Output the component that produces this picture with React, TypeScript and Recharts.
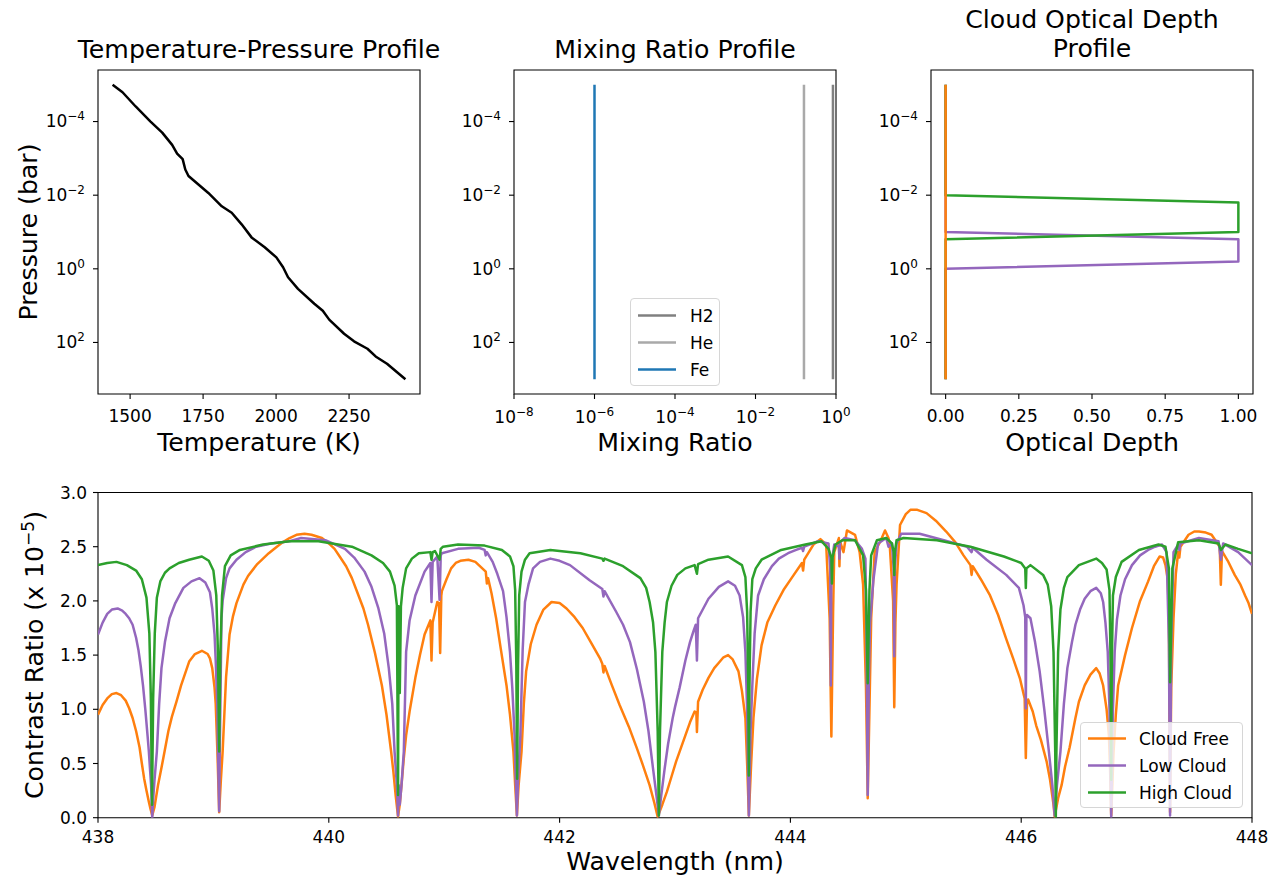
import React from 'react'
import { ScatterChart, Scatter, XAxis, YAxis, ReferenceArea, Legend } from 'recharts'

const FONT = '"DejaVu Sans", sans-serif'

// temperature-pressure profile
const tpTemperature = [1440, 1474, 1519, 1570, 1610, 1644, 1661, 1680, 1689, 1700, 1768, 1814, 1848, 1882, 1916, 1961, 2001, 2024, 2041, 2075, 2131, 2160, 2182, 2233, 2267, 2313, 2341, 2380, 2443]
const tpPressure = [1e-5, 1.6e-5, 3.9e-5, 1.0e-4, 2.0e-4, 4.3e-4, 7.4e-4, 1.05e-3, 2.0e-3, 3.0e-3, 8.7e-3, 0.02, 0.03, 0.062, 0.14, 0.26, 0.49, 0.91, 1.7, 3.5, 8.9, 13.8, 24, 58, 93, 148, 240, 380, 1000]

// mixing ratios (constant with pressure)
const mixPressure = [1e-5, 1e3]
const speciesNames = ['H2', 'He', 'Fe']
const speciesRatio = [0.84, 0.16, 1e-6]
const speciesColors = ['#808080', '#a9a9a9', '#1f77b4']

// cloud optical depth profiles
const clearPressure = [1e-5, 1e3]
const clearDepth = [0, 0]
const lowCloudPressure = [1e-5, 0.1, 0.158, 0.631, 1.0, 1e3]
const lowCloudDepth = [0, 0, 1, 1, 0, 0]
const highCloudPressure = [1e-5, 0.01, 0.0158, 0.1, 0.158, 1e3]
const highCloudDepth = [0, 0, 1, 1, 0, 0]

const pressureTicks = [1e-4, 1e-2, 1, 1e2]
const mixTicks = [1e-8, 1e-6, 1e-4, 1e-2, 1]
const depthTicks = [0, 0.25, 0.5, 0.75, 1]
const wlTicks = [438, 440, 442, 444, 446, 448]
const contrastTicks = [0, 0.5, 1, 1.5, 2, 2.5, 3]

// contrast spectra [wavelength nm, contrast x1e-5]
const cloudFree: [number, number][] = [
  [438.0, 0.95], [438.04, 1.04], [438.08, 1.1], [438.12, 1.14], [438.16, 1.15], [438.2, 1.13], [438.24, 1.08], [438.27, 1.01],
  [438.3, 0.92], [438.33, 0.8], [438.36, 0.65], [438.38, 0.5], [438.4, 0.36], [438.42, 0.25], [438.44, 0.15], [438.455, 0.08],
  [438.47, 0.02], [438.49, 0.1], [438.52, 0.3], [438.55, 0.46], [438.58, 0.63], [438.61, 0.8], [438.64, 0.93], [438.68, 1.07],
  [438.72, 1.22], [438.79, 1.44], [438.84, 1.51], [438.9, 1.54], [438.95, 1.51], [438.97, 1.47], [438.99, 1.38], [439.01, 1.2],
  [439.02, 1.05], [439.035, 0.6], [439.05, 0.05], [439.065, 0.35], [439.08, 0.61], [439.11, 1.3], [439.14, 1.69], [439.17, 1.86],
  [439.2, 1.98], [439.26, 2.15], [439.3, 2.23], [439.38, 2.34], [439.43, 2.39], [439.48, 2.44], [439.55, 2.5], [439.6, 2.54],
  [439.66, 2.58], [439.72, 2.61], [439.79, 2.62], [439.85, 2.61], [439.94, 2.58], [440.0, 2.53], [440.05, 2.48], [440.1, 2.4],
  [440.15, 2.32], [440.2, 2.21], [440.25, 2.07], [440.3, 1.93], [440.34, 1.78], [440.4, 1.52], [440.46, 1.22], [440.5, 0.95],
  [440.54, 0.61], [440.56, 0.42], [440.58, 0.2], [440.6, 0.01], [440.615, 0.12], [440.63, 0.3], [440.65, 0.55], [440.67, 0.76],
  [440.7, 0.98], [440.75, 1.29], [440.79, 1.5], [440.83, 1.69], [440.88, 1.82], [440.89, 1.45], [440.9, 1.8], [440.94, 1.99],
  [440.955, 1.98], [440.965, 1.52], [440.975, 2.05], [440.98, 2.09], [441.02, 2.2], [441.06, 2.3], [441.1, 2.35], [441.14, 2.37],
  [441.21, 2.38], [441.27, 2.36], [441.3, 2.33], [441.36, 2.27], [441.37, 2.16], [441.38, 2.21], [441.41, 2.07], [441.45, 1.84],
  [441.49, 1.56], [441.54, 1.22], [441.57, 0.95], [441.6, 0.61], [441.615, 0.3], [441.63, 0.02], [441.645, 0.3], [441.67, 0.61],
  [441.69, 1.05], [441.71, 1.35], [441.75, 1.6], [441.8, 1.78], [441.86, 1.92], [441.93, 1.99], [442.0, 1.98], [442.06, 1.93],
  [442.13, 1.85], [442.2, 1.75], [442.27, 1.62], [442.35, 1.47], [442.37, 1.42], [442.38, 1.34], [442.39, 1.4], [442.45, 1.23],
  [442.52, 1.04], [442.6, 0.84], [442.67, 0.64], [442.72, 0.49], [442.78, 0.3], [442.82, 0.14], [442.85, 0.01], [442.89, 0.12],
  [442.93, 0.24], [442.97, 0.38], [443.01, 0.52], [443.05, 0.64], [443.09, 0.76], [443.13, 0.88], [443.17, 0.98], [443.185, 0.97],
  [443.19, 0.79], [443.2, 1.07], [443.24, 1.18], [443.29, 1.29], [443.34, 1.38], [443.38, 1.43], [443.42, 1.48], [443.46, 1.5],
  [443.5, 1.46], [443.55, 1.35], [443.58, 1.17], [443.61, 0.92], [443.625, 0.5], [443.64, 0.02], [443.66, 0.5], [443.68, 0.92],
  [443.71, 1.28], [443.75, 1.59], [443.8, 1.8], [443.87, 1.96], [443.94, 2.1], [444.01, 2.21], [444.1, 2.35], [444.11, 2.28],
  [444.12, 2.38], [444.16, 2.45], [444.2, 2.52], [444.26, 2.57], [444.31, 2.52], [444.34, 1.84], [444.355, 0.75], [444.37, 1.9],
  [444.38, 2.45], [444.42, 2.58], [444.425, 2.32], [444.43, 2.55], [444.46, 2.45], [444.49, 2.65], [444.56, 2.61], [444.6, 2.45],
  [444.63, 2.15], [444.655, 1.2], [444.67, 0.18], [444.685, 1.0], [444.7, 1.84], [444.73, 2.45], [444.78, 2.55], [444.82, 2.65],
  [444.85, 2.58], [444.86, 2.53], [444.89, 2.0], [444.9, 1.02], [444.91, 1.8], [444.92, 2.15], [444.95, 2.7], [445.0, 2.8],
  [445.04, 2.84], [445.1, 2.84], [445.18, 2.81], [445.26, 2.74], [445.35, 2.64], [445.43, 2.54], [445.5, 2.42], [445.56, 2.33],
  [445.57, 2.24], [445.58, 2.32], [445.65, 2.2], [445.73, 2.05], [445.8, 1.87], [445.87, 1.65], [445.93, 1.47], [445.99, 1.28],
  [446.03, 1.1], [446.04, 0.55], [446.05, 1.05], [446.06, 1.09], [446.1, 0.98], [446.13, 0.85], [446.17, 0.72], [446.22, 0.52],
  [446.25, 0.35], [446.28, 0.12], [446.29, 0.01], [446.32, 0.18], [446.35, 0.3], [446.38, 0.47], [446.42, 0.65], [446.47, 0.92],
  [446.5, 1.07], [446.55, 1.22], [446.6, 1.32], [446.65, 1.38], [446.68, 1.33], [446.71, 1.22], [446.74, 1.0], [446.76, 0.76],
  [446.77, 0.45], [446.78, 0.02], [446.79, 0.3], [446.8, 0.6], [446.82, 0.95], [446.84, 1.22], [446.9, 1.5], [446.96, 1.75],
  [447.03, 2.0], [447.1, 2.18], [447.15, 2.32], [447.2, 2.41], [447.23, 2.4], [447.25, 2.33], [447.27, 2.2], [447.28, 1.84],
  [447.29, 0.05], [447.3, 1.2], [447.32, 1.84], [447.34, 2.25], [447.36, 2.45], [447.37, 2.4], [447.38, 2.5], [447.45, 2.61],
  [447.5, 2.64], [447.54, 2.64], [447.6, 2.63], [447.65, 2.61], [447.72, 2.5], [447.73, 2.15], [447.74, 2.46], [447.79, 2.37],
  [447.85, 2.24], [447.9, 2.15], [447.94, 2.05], [447.97, 1.98], [448.0, 1.88],
]

const lowCloud: [number, number][] = [
  [438.0, 1.69], [438.04, 1.8], [438.08, 1.88], [438.12, 1.92], [438.17, 1.93], [438.21, 1.91], [438.24, 1.88], [438.27, 1.84],
  [438.3, 1.78], [438.33, 1.66], [438.35, 1.55], [438.37, 1.4], [438.39, 1.22], [438.41, 1.0], [438.43, 0.75], [438.44, 0.62],
  [438.45, 0.46], [438.46, 0.3], [438.47, 0.0], [438.48, 0.2], [438.49, 0.35], [438.51, 0.61], [438.53, 1.05], [438.55, 1.38],
  [438.58, 1.62], [438.62, 1.84], [438.67, 1.98], [438.74, 2.12], [438.81, 2.18], [438.88, 2.21], [438.93, 2.17], [438.97, 2.08],
  [438.99, 1.93], [439.01, 1.69], [439.02, 1.45], [439.035, 1.0], [439.04, 0.6], [439.05, 0.06], [439.055, 0.6], [439.06, 1.0],
  [439.07, 1.84], [439.08, 2.0], [439.11, 2.21], [439.14, 2.3], [439.2, 2.38], [439.28, 2.45], [439.37, 2.5], [439.5, 2.53],
  [439.66, 2.55], [439.76, 2.58], [439.97, 2.56], [440.14, 2.48], [440.22, 2.4], [440.31, 2.27], [440.37, 2.13], [440.43, 1.93],
  [440.48, 1.7], [440.52, 1.38], [440.55, 1.05], [440.57, 0.61], [440.59, 0.3], [440.6, 0.02], [440.605, 0.3], [440.615, 0.12],
  [440.63, 0.3], [440.65, 0.61], [440.67, 1.53], [440.7, 1.82], [440.75, 2.05], [440.83, 2.27], [440.88, 2.35], [440.89, 1.99],
  [440.9, 2.36], [440.94, 2.41], [440.96, 2.01], [440.97, 2.42], [440.98, 2.44], [441.12, 2.48], [441.3, 2.49], [441.35, 2.47],
  [441.36, 2.42], [441.37, 2.45], [441.42, 2.36], [441.46, 2.25], [441.51, 2.09], [441.54, 1.85], [441.57, 1.53], [441.59, 1.2],
  [441.61, 0.76], [441.62, 0.35], [441.63, 0.02], [441.64, 0.35], [441.66, 0.76], [441.68, 1.55], [441.7, 1.99], [441.73, 2.15],
  [441.77, 2.3], [441.83, 2.36], [441.92, 2.39], [442.0, 2.37], [442.09, 2.33], [442.26, 2.19], [442.37, 2.11], [442.38, 2.04],
  [442.39, 2.09], [442.49, 1.9], [442.55, 1.78], [442.61, 1.62], [442.67, 1.37], [442.73, 1.07], [442.77, 0.8], [442.81, 0.45],
  [442.84, 0.2], [442.86, 0.02], [442.88, 0.2], [442.91, 0.45], [442.94, 0.68], [442.98, 0.92], [443.0, 1.02], [443.04, 1.2],
  [443.09, 1.45], [443.13, 1.62], [443.16, 1.72], [443.18, 1.78], [443.19, 1.45], [443.2, 1.84], [443.29, 2.02], [443.38, 2.13],
  [443.46, 2.18], [443.52, 2.14], [443.56, 2.05], [443.59, 1.85], [443.61, 1.53], [443.625, 1.0], [443.64, 0.02], [443.655, 0.8],
  [443.67, 1.22], [443.69, 1.7], [443.72, 2.05], [443.77, 2.2], [443.84, 2.32], [443.9, 2.39], [443.98, 2.44], [444.05, 2.47],
  [444.1, 2.49], [444.11, 2.46], [444.12, 2.5], [444.24, 2.55], [444.33, 2.53], [444.345, 2.3], [444.35, 1.22], [444.355, 2.3],
  [444.37, 2.45], [444.38, 2.52], [444.42, 2.5], [444.425, 2.39], [444.43, 2.54], [444.47, 2.58], [444.56, 2.56], [444.62, 2.48],
  [444.65, 2.39], [444.66, 1.6], [444.67, 0.21], [444.68, 1.3], [444.69, 1.8], [444.72, 2.2], [444.76, 2.53], [444.83, 2.58],
  [444.85, 2.5], [444.88, 2.53], [444.895, 2.3], [444.9, 1.49], [444.905, 2.3], [444.92, 2.53], [444.96, 2.62], [445.12, 2.62],
  [445.33, 2.56], [445.53, 2.5], [445.57, 2.45], [445.58, 2.49], [445.7, 2.38], [445.87, 2.24], [445.98, 2.12], [446.02, 1.96],
  [446.035, 1.85], [446.04, 1.01], [446.045, 1.85], [446.05, 1.87], [446.08, 1.84], [446.12, 1.62], [446.16, 1.35], [446.2, 1.0],
  [446.24, 0.61], [446.27, 0.3], [446.29, 0.02], [446.31, 0.3], [446.34, 0.61], [446.37, 1.05], [446.4, 1.38], [446.44, 1.62],
  [446.47, 1.78], [446.51, 1.92], [446.55, 2.02], [446.6, 2.09], [446.65, 2.12], [446.69, 2.07], [446.71, 1.99], [446.73, 1.8],
  [446.75, 1.53], [446.765, 1.0], [446.78, 0.01], [446.795, 1.0], [446.81, 1.53], [446.83, 1.83], [446.86, 2.05], [446.9, 2.2],
  [446.96, 2.33], [447.03, 2.42], [447.1, 2.47], [447.16, 2.5], [447.22, 2.52], [447.26, 2.45], [447.28, 1.6], [447.29, 0.02],
  [447.3, 1.6], [447.32, 2.45], [447.36, 2.52], [447.37, 2.47], [447.38, 2.53], [447.54, 2.58], [447.71, 2.55], [447.73, 2.38],
  [447.75, 2.53], [447.88, 2.45], [448.0, 2.33],
]

const highCloud: [number, number][] = [
  [438.0, 2.33], [438.08, 2.35], [438.16, 2.36], [438.25, 2.33], [438.33, 2.28], [438.38, 2.2], [438.42, 2.03], [438.445, 1.7],
  [438.458, 1.1], [438.468, 0.12], [438.478, 1.1], [438.492, 1.7], [438.51, 2.03], [438.54, 2.18], [438.58, 2.26], [438.62, 2.3],
  [438.7, 2.35], [438.79, 2.38], [438.9, 2.41], [438.96, 2.37], [439.0, 2.28], [439.025, 2.05], [439.04, 1.5], [439.05, 0.61],
  [439.06, 1.5], [439.075, 2.05], [439.1, 2.32], [439.15, 2.42], [439.23, 2.47], [439.43, 2.52], [439.66, 2.55], [439.91, 2.55],
  [440.2, 2.5], [440.37, 2.42], [440.47, 2.35], [440.53, 2.27], [440.57, 2.14], [440.59, 1.96], [440.6, 0.21], [440.605, 1.95],
  [440.615, 1.15], [440.625, 1.95], [440.64, 2.12], [440.67, 2.3], [440.72, 2.39], [440.78, 2.44], [440.88, 2.45], [440.89, 2.38],
  [440.9, 2.45], [440.92, 2.46], [440.96, 2.38], [440.97, 2.48], [440.99, 2.5], [441.12, 2.52], [441.35, 2.51], [441.5, 2.47],
  [441.57, 2.41], [441.6, 2.32], [441.615, 2.1], [441.625, 1.4], [441.632, 0.36], [441.64, 1.4], [441.65, 2.05], [441.67, 2.27],
  [441.7, 2.38], [441.74, 2.44], [441.92, 2.47], [442.18, 2.44], [442.37, 2.39], [442.38, 2.37], [442.39, 2.39], [442.55, 2.32],
  [442.7, 2.21], [442.75, 2.12], [442.78, 1.99], [442.81, 1.8], [442.83, 1.53], [442.85, 0.8], [442.86, 0.02], [442.87, 0.8],
  [442.89, 1.53], [442.91, 1.8], [442.93, 1.99], [442.97, 2.14], [443.02, 2.24], [443.09, 2.3], [443.17, 2.33], [443.19, 2.25],
  [443.2, 2.34], [443.29, 2.38], [443.46, 2.41], [443.58, 2.33], [443.61, 2.22], [443.625, 1.9], [443.635, 1.2], [443.64, 0.39],
  [443.645, 1.2], [443.655, 1.9], [443.67, 2.2], [443.7, 2.3], [443.75, 2.38], [443.92, 2.47], [444.13, 2.52], [444.27, 2.55],
  [444.33, 2.48], [444.355, 2.4], [444.36, 2.16], [444.365, 2.4], [444.39, 2.52], [444.45, 2.56], [444.56, 2.56], [444.63, 2.42],
  [444.655, 2.1], [444.67, 1.24], [444.685, 2.1], [444.7, 2.42], [444.75, 2.56], [444.83, 2.58], [444.88, 2.53], [444.895, 2.45],
  [444.9, 2.24], [444.905, 2.45], [444.92, 2.56], [444.98, 2.58], [445.27, 2.56], [445.56, 2.5], [445.85, 2.41], [446.0, 2.35],
  [446.035, 2.3], [446.04, 2.12], [446.045, 2.3], [446.08, 2.33], [446.19, 2.24], [446.23, 2.15], [446.26, 1.95], [446.28, 1.53],
  [446.295, 0.6], [446.3, 0.01], [446.305, 0.6], [446.32, 1.53], [446.34, 1.92], [446.37, 2.12], [446.4, 2.22], [446.5, 2.33],
  [446.65, 2.39], [446.7, 2.35], [446.74, 2.29], [446.765, 2.1], [446.775, 1.4], [446.78, 0.35], [446.785, 1.4], [446.795, 2.05],
  [446.82, 2.22], [446.87, 2.36], [447.02, 2.47], [447.19, 2.52], [447.25, 2.5], [447.28, 2.3], [447.29, 1.25], [447.31, 2.3],
  [447.36, 2.54], [447.54, 2.56], [447.71, 2.53], [447.73, 2.47], [447.77, 2.52], [447.88, 2.48], [448.0, 2.44],
]

const ORANGE = '#ff7f0e'
const PURPLE = '#9467bd'
const GREEN = '#2ca02c'

const P_DOMAIN: [number, number] = [3.98e-6, 2512]

const zip = (xs: number[], ys: number[]) => xs.map((x, i) => ({ x, y: ys[i] }))
const toPoints = (rows: [number, number][]) => rows.map(([x, y]) => ({ x, y }))

const noDot = () => <g />
const sup = (v: number) => String(Math.round(Math.log10(v))).replace('-', '\u2212')

function LogTickY(props: any) {
  const { x, y, payload } = props
  return (
    <text x={x} y={y} dy="0.35em" textAnchor="end" fontSize={17} fontFamily={FONT} fill="#000">
      10<tspan dy={-7} fontSize={12}>{sup(payload.value)}</tspan>
    </text>
  )
}

function LogTickX(props: any) {
  const { x, y, payload } = props
  return (
    <text x={x} y={y} dy={14} textAnchor="middle" fontSize={17} fontFamily={FONT} fill="#000">
      10<tspan dy={-7} fontSize={12}>{sup(payload.value)}</tspan>
    </text>
  )
}

function Caption({ x, y, size = 25.2, rotate = false, children }: any) {
  return (
    <div
      style={{
        position: 'absolute', left: x, top: y, fontSize: size, lineHeight: 1, whiteSpace: 'nowrap',
        transform: `translate(-50%, -50%)${rotate ? ' rotate(-90deg)' : ''}`,
      }}
    >
      {children}
    </div>
  )
}

// matplotlib-like legend frame, line samples drawn as svg so they stay crisp
const legendBox = (items: { label: string; color: string }[], lineLeft: number, textLeft: number, padTop: number, rowH: number) => () => (
  <div
    style={{
      boxSizing: 'border-box', width: '100%', height: '100%', border: '1px solid #d6d6d6', borderRadius: 4,
      background: 'rgba(255,255,255,0.8)', paddingTop: padTop, fontFamily: FONT, fontSize: 17, color: '#000',
    }}
  >
    {items.map(it => (
      <div key={it.label} style={{ position: 'relative', height: rowH }}>
        <svg width={40} height={rowH} style={{ position: 'absolute', left: lineLeft - 1, top: 0 }}>
          <line x1={1} x2={39} y1={rowH / 2} y2={rowH / 2} stroke={it.color} strokeWidth={2.5} />
        </svg>
        <span style={{ position: 'absolute', left: textLeft, top: '50%', transform: 'translateY(-50%)', lineHeight: 1 }}>{it.label}</span>
      </div>
    ))}
  </div>
)

const tickStyle = { fontSize: 17, fill: '#000', fontFamily: FONT }
const tickLine = { stroke: '#000', strokeWidth: 1.1 }
const frame = { fill: 'none', stroke: '#000', strokeWidth: 1.1, fillOpacity: 0 }
const LW = 2.5

const trace = (key: string, data: { x: number; y: number }[], color: string, width = LW) => (
  <Scatter
    key={key}
    data={data}
    fill={color}
    line={{ stroke: color, strokeWidth: width, strokeLinejoin: 'round' }}
    shape={noDot}
    isAnimationActive={false}
  />
)

export default function App() {
  const tp = zip(tpTemperature, tpPressure)
  const mix = speciesNames.map((_, i) => zip(mixPressure.map(() => speciesRatio[i]), mixPressure))
  const clear = zip(clearDepth, clearPressure)
  const low = zip(lowCloudDepth, lowCloudPressure)
  const high = zip(highCloudDepth, highCloudPressure)

  return (
    <div style={{ position: 'fixed', left: 0, top: 0, width: 1279, height: 884, background: '#fff', fontFamily: FONT, color: '#000' }}>
      {/* Temperature-pressure */}
      <div style={{ position: 'absolute', left: 0, top: 0 }}>
        <ScatterChart width={440} height={460} margin={{ top: 70, right: 20, bottom: 0, left: 0 }}>
          <XAxis dataKey="x" type="number" domain={[1390, 2493]} ticks={[1500, 1750, 2000, 2250]} allowDataOverflow
            height={66} tickSize={5} tickMargin={11} tick={tickStyle} tickLine={tickLine} axisLine={false} />
          <YAxis dataKey="y" type="number" scale="log" domain={P_DOMAIN} reversed allowDataOverflow ticks={pressureTicks}
            width={98} tickSize={5} tickMargin={8} tick={(p: any) => <LogTickY {...p} />} tickLine={tickLine} axisLine={false} />
          <ReferenceArea x1={1390} x2={2493} y1={P_DOMAIN[0]} y2={P_DOMAIN[1]} {...frame} />
          {trace('tp', tp, '#000')}
        </ScatterChart>
      </div>

      {/* Mixing ratio */}
      <div style={{ position: 'absolute', left: 416, top: 0 }}>
        <ScatterChart width={450} height={460} margin={{ top: 70, right: 30, bottom: 0, left: 0 }}>
          <XAxis dataKey="x" type="number" scale="log" domain={[1e-8, 1]} ticks={mixTicks} allowDataOverflow
            height={66} tickSize={5} tickMargin={10} tick={(p: any) => <LogTickX {...p} />} tickLine={tickLine} axisLine={false} />
          <YAxis dataKey="y" type="number" scale="log" domain={P_DOMAIN} reversed allowDataOverflow ticks={pressureTicks}
            width={98} tickSize={5} tickMargin={8} tick={(p: any) => <LogTickY {...p} />} tickLine={tickLine} axisLine={false} />
          <ReferenceArea x1={1e-8} x2={1} y1={P_DOMAIN[0]} y2={P_DOMAIN[1]} {...frame} />
          {mix.map((d, i) => trace(speciesNames[i], d, speciesColors[i]))}
          <Legend layout="vertical" align="center" verticalAlign="middle"
            wrapperStyle={{ left: 214, top: 298, width: 90, height: 88 }}
            content={legendBox(speciesNames.map((n, i) => ({ label: n, color: speciesColors[i] })), 7, 59, 3, 27)} />
        </ScatterChart>
      </div>

      {/* Cloud optical depth */}
      <div style={{ position: 'absolute', left: 833, top: 0 }}>
        <ScatterChart width={446} height={460} margin={{ top: 70, right: 26, bottom: 0, left: 0 }}>
          <XAxis dataKey="x" type="number" domain={[-0.05, 1.05]} ticks={depthTicks} allowDataOverflow
            height={66} tickSize={5} tickMargin={11} tick={tickStyle} tickFormatter={(v: number) => v.toFixed(2)}
            tickLine={tickLine} axisLine={false} />
          <YAxis dataKey="y" type="number" scale="log" domain={P_DOMAIN} reversed allowDataOverflow ticks={pressureTicks}
            width={98} tickSize={5} tickMargin={8} tick={(p: any) => <LogTickY {...p} />} tickLine={tickLine} axisLine={false} />
          <ReferenceArea x1={-0.05} x2={1.05} y1={P_DOMAIN[0]} y2={P_DOMAIN[1]} {...frame} />
          {trace('low', low, PURPLE)}
          {trace('high', high, GREEN)}
          {trace('clear', clear, ORANGE)}
        </ScatterChart>
      </div>

      {/* Contrast spectrum */}
      <div style={{ position: 'absolute', left: 0, top: 480 }}>
        <ScatterChart width={1279} height={404} margin={{ top: 12.5, right: 27, bottom: 0, left: 0 }}>
          <XAxis dataKey="x" type="number" domain={[438, 448]} ticks={wlTicks} allowDataOverflow
            height={66.3} tickSize={5} tickMargin={8} tick={tickStyle} tickLine={tickLine} axisLine={false} />
          <YAxis dataKey="y" type="number" domain={[0, 3]} ticks={contrastTicks} allowDataOverflow
            width={98} tickSize={5} tickMargin={6} tick={tickStyle} tickFormatter={(v: number) => v.toFixed(1)}
            tickLine={tickLine} axisLine={false} />
          <ReferenceArea x1={438} x2={448} y1={0} y2={3} {...frame} />
          {trace('free', toPoints(cloudFree), ORANGE)}
          {trace('lowc', toPoints(lowCloud), PURPLE)}
          {trace('highc', toPoints(highCloud), GREEN)}
          <Legend layout="vertical" align="center" verticalAlign="middle"
            wrapperStyle={{ left: 1080, top: 242, width: 163, height: 86 }}
            content={legendBox([
              { label: 'Cloud Free', color: ORANGE },
              { label: 'Low Cloud', color: PURPLE },
              { label: 'High Cloud', color: GREEN },
            ], 7, 58, 2, 27)} />
        </ScatterChart>
      </div>

      <Caption x={259} y={50}>Temperature-Pressure Profile</Caption>
      <Caption x={675} y={50}>Mixing Ratio Profile</Caption>
      <Caption x={1092} y={20}>Cloud Optical Depth</Caption>
      <Caption x={1092} y={49}>Profile</Caption>
      <Caption x={259} y={443}>Temperature (K)</Caption>
      <Caption x={675} y={443}>Mixing Ratio</Caption>
      <Caption x={1092} y={443}>Optical Depth</Caption>
      <Caption x={29} y={232} rotate>Pressure (bar)</Caption>
      <Caption x={675} y={862}>Wavelength (nm)</Caption>
      <Caption x={35} y={655} rotate>
        Contrast Ratio (x 10<span style={{ fontSize: 17, position: 'relative', top: -9 }}>{'\u22125'}</span>)
      </Caption>
    </div>
  )
}
